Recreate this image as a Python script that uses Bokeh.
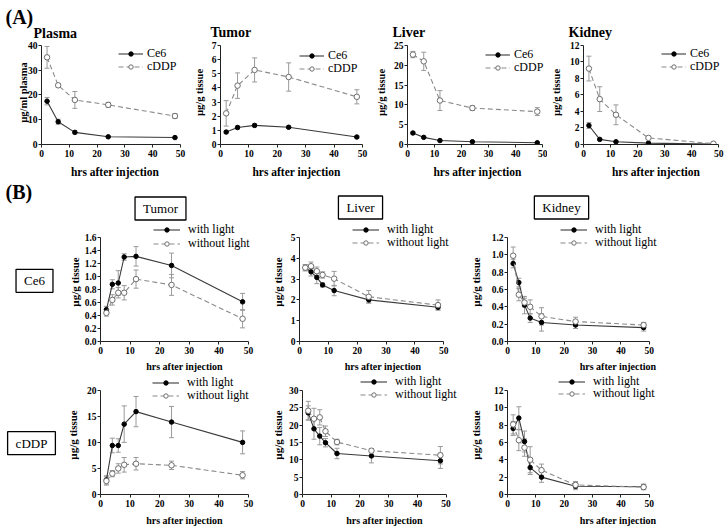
from bokeh.plotting import figure
from bokeh.models import (Range1d, FixedTicker, NumeralTickFormatter, ColumnDataSource,
                          Whisker, TeeHead, Legend, LegendItem, Label)
from bokeh.layouts import column, row
from bokeh.embed import file_html
from bokeh.resources import INLINE

# ---------------- data (A) ----------------
t_a = [2, 6, 12, 24, 48]
plasma_ce6 = [17.5, 9.2, 4.9, 3.1, 2.8]
plasma_ce6_err = [1.5, 1.0, 0.6, 0.3, 0.3]
plasma_cddp = [35.2, 23.9, 18.0, 16.0, 11.5]
plasma_cddp_err = [4.4, 0.6, 3.4, 1.0, 1.0]
tumor_ce6 = [0.88, 1.2, 1.35, 1.22, 0.53]
tumor_ce6_err = [0.08, 0.1, 0.1, 0.08, 0.08]
tumor_cddp = [2.2, 4.16, 5.27, 4.77, 3.37]
tumor_cddp_err = [0.9, 0.9, 0.85, 1.0, 0.5]
liver_ce6 = [2.9, 1.8, 1.0, 0.7, 0.45]
liver_ce6_err = [0.3, 0.15, 0.1, 0.1, 0.1]
liver_cddp = [22.7, 21.0, 11.1, 9.2, 8.3]
liver_cddp_err = [0.8, 2.3, 2.5, 0.6, 1.0]
kidney_ce6 = [2.3, 0.62, 0.33, 0.17, 0.05]
kidney_ce6_err = [0.35, 0.08, 0.06, 0.05, 0.03]
kidney_cddp = [9.2, 5.5, 3.6, 0.8, 0.1]
kidney_cddp_err = [1.5, 1.5, 1.2, 0.15, 0.1]

# ---------------- data (B) ----------------
t_b = [2, 4, 6, 8, 12, 24, 48]
ce6_tumor_light = [0.49, 0.88, 0.90, 1.30, 1.31, 1.17, 0.61]
ce6_tumor_light_err = [0.05, 0.07, 0.19, 0.05, 0.15, 0.19, 0.13]
ce6_tumor_dark = [0.44, 0.64, 0.75, 0.75, 0.96, 0.87, 0.35]
ce6_tumor_dark_err = [0.05, 0.08, 0.08, 0.11, 0.14, 0.16, 0.14]
ce6_liver_light = [3.55, 3.35, 3.08, 2.72, 2.45, 2.0, 1.65]
ce6_liver_light_err = [0.15, 0.2, 0.3, 0.1, 0.25, 0.15, 0.1]
ce6_liver_dark = [3.55, 3.62, 3.38, 3.2, 3.02, 2.15, 1.75]
ce6_liver_dark_err = [0.15, 0.2, 0.2, 0.15, 0.35, 0.3, 0.25]
ce6_kidney_light = [0.9, 0.68, 0.42, 0.27, 0.22, 0.19, 0.16]
ce6_kidney_light_err = [0.05, 0.05, 0.1, 0.05, 0.1, 0.04, 0.04]
ce6_kidney_dark = [0.99, 0.54, 0.45, 0.40, 0.29, 0.23, 0.19]
ce6_kidney_dark_err = [0.1, 0.07, 0.05, 0.08, 0.1, 0.05, 0.03]
cddp_tumor_light = [2.8, 9.4, 9.4, 13.5, 15.9, 13.9, 10.0]
cddp_tumor_light_err = [0.8, 1.4, 1.3, 3.5, 2.9, 3.0, 2.2]
cddp_tumor_dark = [2.6, 4.0, 5.0, 5.7, 5.9, 5.6, 3.7]
cddp_tumor_dark_err = [0.8, 0.6, 0.9, 1.4, 1.2, 0.8, 0.7]
cddp_liver_light = [23.5, 18.9, 16.8, 14.9, 11.8, 11.1, 9.7]
cddp_liver_light_err = [2.0, 3.0, 2.5, 1.2, 1.5, 2.0, 2.2]
cddp_liver_dark = [24.1, 21.8, 22.2, 18.2, 15.1, 12.6, 11.3]
cddp_liver_dark_err = [2.7, 3.0, 2.2, 1.5, 0.8, 0.6, 2.5]
cddp_kidney_light = [7.6, 8.8, 6.1, 3.1, 2.0, 0.95, 0.9]
cddp_kidney_light_err = [0.8, 1.3, 1.2, 0.8, 0.6, 0.4, 0.3]
cddp_kidney_dark = [8.07, 6.25, 5.4, 4.0, 2.8, 1.1, 0.85]
cddp_kidney_dark_err = [1.1, 1.2, 1.0, 1.5, 0.7, 0.4, 0.3]

x_ticks = [0, 10, 20, 30, 40, 50]
XMAX = 50
FONT = "Liberation Serif"
XLABEL = "hrs after injection"
YLABEL = "µg/g tissue"


def strip(W, H):
    p = figure(width=W, height=H, x_range=Range1d(0, W), y_range=Range1d(H, 0),
               x_axis_type=None, y_axis_type=None,
               min_border_left=0, min_border_right=0, min_border_top=0, min_border_bottom=0,
               output_backend="svg", toolbar_location=None, tools="")
    p.outline_line_color = None
    return p


def text(p, x, y, s, size, bold=False, align="left", box=False):
    kw = dict(x=x, y=y, text=s, text_font=FONT, text_font_size=size,
              text_font_style="bold" if bold else "normal", text_color="black",
              text_align=align, text_baseline="middle")
    if box:
        kw.update(border_line_color="black", border_line_width=1.3,
                  background_fill_color="white", padding=(8, 4))
    p.add_layout(Label(**kw))


class Panel:
    """Axes sit at the frame's left/bottom edge; the frame extends to the
    canvas top/right, and the axes are bounded to the data span."""

    def __init__(self, W, H, L, B, aw, ah, ymax, yticks, ylabel, fmt=None,
                 xsize="11.5px", ysize="10.5px", yst=2, xst=6):
        fw, fh = W - L, H - B
        self.ah = ah
        p = figure(width=W, height=H,
                   x_range=Range1d(0, XMAX * fw / aw), y_range=Range1d(0, ymax * fh / ah),
                   min_border_left=L, min_border_right=0, min_border_top=0, min_border_bottom=B,
                   output_backend="svg", toolbar_location=None, tools="")
        p.outline_line_color = None
        p.xgrid.visible = False
        p.ygrid.visible = False
        p.xaxis.ticker = FixedTicker(ticks=x_ticks)
        p.yaxis.ticker = FixedTicker(ticks=list(yticks))
        p.xaxis.bounds = (0, XMAX)
        p.yaxis.bounds = (0, ymax)
        if fmt:
            p.yaxis.formatter = NumeralTickFormatter(format=fmt)
        p.xaxis.axis_label = XLABEL
        p.yaxis.axis_label = ylabel
        for ax in (p.xaxis[0], p.yaxis[0]):
            ax.axis_line_color = "#222222"
            ax.major_tick_line_color = "#222222"
            ax.minor_tick_line_color = None
            ax.major_tick_in = 0
            ax.major_tick_out = 3
            ax.major_label_text_font = FONT
            ax.major_label_text_font_style = "bold"
            ax.major_label_text_font_size = "9.5px"
            ax.major_label_text_color = "black"
            ax.axis_label_text_font = FONT
            ax.axis_label_text_font_style = "bold"
            ax.axis_label_text_color = "black"
        p.xaxis.axis_label_text_font_size = xsize
        p.yaxis.axis_label_text_font_size = ysize
        p.xaxis.major_label_standoff = 2
        p.xaxis.axis_label_standoff = xst
        p.yaxis.major_label_standoff = 1
        p.yaxis.axis_label_standoff = yst
        self.p = p

    def series(self, t, y, err, solid):
        src = ColumnDataSource(dict(x=t, y=y,
                                    lo=[a - b for a, b in zip(y, err)],
                                    up=[a + b for a, b in zip(y, err)]))
        ec = "#9a9a9a"
        self.p.add_layout(Whisker(source=src, base="x", lower="lo", upper="up",
                                  line_color=ec, line_width=1,
                                  upper_head=TeeHead(size=5, line_color=ec, line_width=1),
                                  lower_head=TeeHead(size=5, line_color=ec, line_width=1)))
        if solid:
            l = self.p.line("x", "y", source=src, line_color="#3a3a3a", line_width=1.1)
            s = self.p.scatter("x", "y", source=src, marker="circle", size=4.5,
                               fill_color="black", line_color="black")
        else:
            l = self.p.line("x", "y", source=src, line_color="#8a8a8a", line_width=1.1,
                            line_dash="5 3")
            s = self.p.scatter("x", "y", source=src, marker="circle", size=5.5,
                               fill_color="white", line_color="#6e6e6e", line_width=1)
        return l, s

    def legend_row(self, rends, lab, left, center, gw, standoff):
        ih = 16
        vy = self.ah - center - ih / 2.0
        leg = Legend(items=[LegendItem(label=lab, renderers=list(rends))],
                     location=(left, vy), padding=0, spacing=0, margin=0,
                     glyph_width=gw, glyph_height=11, label_height=ih,
                     label_standoff=standoff, label_text_font=FONT,
                     label_text_font_size="12px", label_text_color="black",
                     border_line_color=None, background_fill_alpha=0)
        self.p.add_layout(leg)


def pair_a(P, ce6, ce6e, cd, cde, left, r1, r2):
    a = P.series(t_a, ce6, ce6e, True)
    b = P.series(t_a, cd, cde, False)
    P.legend_row(a, "Ce6", left, r1, 25, 4)
    P.legend_row(b, "cDDP", left, r2, 25, 4)


def pair_b(P, li, lie, dk, dke, left, r1, r2):
    a = P.series(t_b, li, lie, True)
    b = P.series(t_b, dk, dke, False)
    P.legend_row(a, "with light", left, r1, 27, 8)
    P.legend_row(b, "without light", left, r2, 27, 8)


# ---------------- (A) ----------------
SA = strip(728, 40)
text(SA, 5, 16, "(A)", "20px", bold=True)
text(SA, 33, 32.5, "Plasma", "14px", bold=True)
text(SA, 210, 31.5, "Tumor", "14px", bold=True)
text(SA, 392, 31.5, "Liver", "14px", bold=True)
text(SA, 568, 31.5, "Kidney", "14px", bold=True)

A1 = Panel(188, 140, 41, 35, 139, 100, 40, [0, 10, 20, 30, 40], "µg/ml plasma", yst=-4)
A2 = Panel(184, 140, 32, 35, 142, 100, 7, range(0, 8), YLABEL, yst=4)
A3 = Panel(175, 140, 30, 35, 140, 100, 25, [0, 5, 10, 15, 20, 25], YLABEL, yst=4)
A4 = Panel(181, 140, 31, 35, 140, 100, 12, [0, 2, 4, 6, 8, 10, 12], YLABEL, yst=5)

pair_a(A1, plasma_ce6, plasma_ce6_err, plasma_cddp, plasma_cddp_err, 77, 9, 22)
pair_a(A2, tumor_ce6, tumor_ce6_err, tumor_cddp, tumor_cddp_err, 79, 11, 24)
pair_a(A3, liver_ce6, liver_ce6_err, liver_cddp, liver_cddp_err, 78, 10, 23)
pair_a(A4, kidney_ce6, kidney_ce6_err, kidney_cddp, kidney_cddp_err, 78, 9, 22)

# ---------------- (B) ----------------
SB = strip(728, 42)
text(SB, 5, 11.5, "(B)", "20px", bold=True)
text(SB, 160, 28, "Tumor", "13px", align="center", box=True)
text(SB, 360, 27, "Liver", "13px", align="center", box=True)
text(SB, 561, 27, "Kidney", "13px", align="center", box=True)

R1 = strip(58, 153)
text(R1, 34, 75, "Ce6", "13px", align="center", box=True)
R2 = strip(58, 153)
text(R2, 31, 87, "cDDP", "13px", align="center", box=True)

b1kw = dict(xsize="10px", ysize="11px", xst=4)
b2kw = dict(xsize="10px", ysize="11px", xst=5)
B1T = Panel(210, 153, 42, 34, 148, 104, 1.6, [0, 0.2, 0.4, 0.6, 0.8, 1.0, 1.2, 1.4, 1.6],
            YLABEL, fmt="0.0", yst=1, **b1kw)
B1L = Panel(198, 153, 29, 34, 146, 104, 5, [0, 1, 2, 3, 4, 5], YLABEL, yst=4, **b1kw)
B1K = Panel(262, 153, 36, 34, 145, 104, 1.2, [0, 0.2, 0.4, 0.6, 0.8, 1.0, 1.2],
            YLABEL, fmt="0.0", yst=7, **b1kw)

pair_b(B1T, ce6_tumor_light, ce6_tumor_light_err, ce6_tumor_dark, ce6_tumor_dark_err, 53, -8, 6)
pair_b(B1L, ce6_liver_light, ce6_liver_light_err, ce6_liver_dark, ce6_liver_dark_err, 53, -8, 5)
pair_b(B1K, ce6_kidney_light, ce6_kidney_light_err, ce6_kidney_dark, ce6_kidney_dark_err, 53, -8, 5)

B2T = Panel(210, 153, 42, 32, 148, 106, 20, [0, 5, 10, 15, 20], YLABEL, yst=5, **b2kw)
B2L = Panel(198, 153, 29, 32, 148, 106, 30, [0, 5, 10, 15, 20, 25, 30], YLABEL, yst=2, **b2kw)
B2K = Panel(262, 153, 36, 32, 145, 106, 12, [0, 2, 4, 6, 8, 10, 12], YLABEL, yst=9, **b2kw)

pair_b(B2T, cddp_tumor_light, cddp_tumor_light_err, cddp_tumor_dark, cddp_tumor_dark_err, 52, -6, 7)
pair_b(B2L, cddp_liver_light, cddp_liver_light_err, cddp_liver_dark, cddp_liver_dark_err, 58, -7, 6)
pair_b(B2K, cddp_kidney_light, cddp_kidney_light_err, cddp_kidney_dark, cddp_kidney_dark_err, 51, -7, 5)

layout = column(SA,
                row(A1.p, A2.p, A3.p, A4.p),
                SB,
                row(R1, B1T.p, B1L.p, B1K.p),
                row(R2, B2T.p, B2L.p, B2K.p))

open("out.html", "w").write(file_html(layout, INLINE))
